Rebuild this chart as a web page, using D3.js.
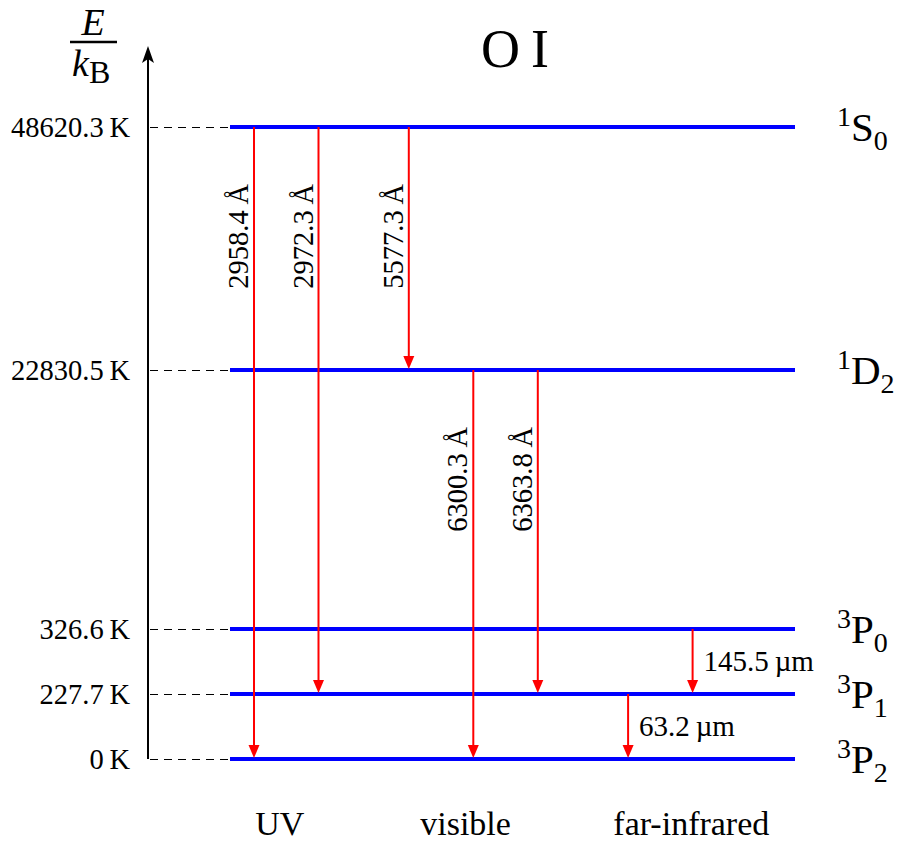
<!DOCTYPE html>
<html><head><meta charset="utf-8">
<script src="https://cdn.jsdelivr.net/npm/d3@7"></script>
<style>body{margin:0;background:#fff}svg{display:block}text{font-family:'Liberation Serif',serif;fill:#000}</style>
</head><body><svg id="c" width="900" height="843"></svg>
<script>
// ---- data ----
const levelIds   = ["3P2", "3P1", "3P0", "1D2", "1S0"];
const energiesK  = [0, 227.7, 326.6, 22830.5, 48620.3];
const tickLabels = ["0\u2009K", "227.7\u2009K", "326.6\u2009K", "22830.5\u2009K", "48620.3\u2009K"];
const termMult   = ["3", "3", "3", "1", "1"];
const termL      = ["P", "P", "P", "D", "S"];
const termJ      = ["2", "1", "0", "2", "0"];

const transFrom   = ["1S0", "1S0", "1S0", "1D2", "1D2", "3P1", "3P0"];
const transTo     = ["3P2", "3P1", "1D2", "3P2", "3P1", "3P2", "3P1"];
const transLabels = ["2958.4\u2009Å", "2972.3\u2009Å", "5577.3\u2009Å", "6300.3\u2009Å", "6363.8\u2009Å", "63.2\u2009µm", "145.5\u2009µm"];
const transCol    = [0, 1, 2.4, 3.4, 4.4, 5.8, 6.8];
const transVertical = [true, true, true, true, true, false, false];

const categories   = ["UV", "visible", "far-infrared"];
const categoryCol  = [0.4, 3.28, 6.78];

const title = "O\u2009I";

// ---- layout ----
const svg = d3.select("#c");
const x = d3.scaleLinear().domain([0, 1]).range([254, 318.5]);
const levelX0 = x.invert(230), levelX1 = x.invert(795);
// broken energy axis: piecewise linear
const y = d3.scaleLinear().domain(energiesK).range([759, 694, 629, 370, 127]);
const E = id => energiesK[levelIds.indexOf(id)];
const axisX = 148;
const serif = "'Liberation Serif', serif";

// axis arrow
svg.append("line").attr("x1", axisX).attr("x2", axisX).attr("y1", y(0)).attr("y2", 58)
  .attr("stroke", "#000").attr("stroke-width", 2);
svg.append("path").attr("d", `M${axisX},46 L${axisX+6},63 L${axisX},59 L${axisX-6},63 Z`).attr("fill", "#000");

// tick dashes and labels
const axis = d3.axisLeft(y).tickValues(energiesK).tickSize(0).tickFormat((d, i) => tickLabels[i]);
const gA = svg.append("g").attr("transform", `translate(${axisX},0)`).call(axis).attr("font-family", null).attr("font-size", null);
gA.select(".domain").remove();
gA.selectAll("text").attr("x", -18).attr("dy", "0.35em").style("font-family", serif).style("font-size", "28.5px").attr("fill", "#000");
gA.selectAll(".tick").append("line").attr("x1", 2).attr("x2", x(levelX0) - axisX)
  .attr("stroke", "#000").attr("stroke-width", 1).attr("stroke-dasharray", "8,6");

// level lines
svg.selectAll(".lvl").data(energiesK).enter().append("line")
  .attr("x1", x(levelX0)).attr("x2", x(levelX1)).attr("y1", d => y(d)).attr("y2", d => y(d))
  .attr("stroke", "#0000ff").attr("stroke-width", 4);

// term labels
energiesK.forEach((e, i) => {
  const t = svg.append("text").attr("x", 837).attr("y", y(e) + 14).style("font-family", serif).style("font-size", "41px");
  t.append("tspan").text(termMult[i]).style("font-size", "28px").attr("dy", -15);
  t.append("tspan").text(termL[i]).attr("dy", 15);
  t.append("tspan").text(termJ[i]).style("font-size", "28px").attr("dy", 9);
});

// transitions
transFrom.forEach((f, i) => {
  const cx = x(transCol[i]);
  const y0 = y(E(f)), y1 = y(E(transTo[i]));
  svg.append("line").attr("x1", cx).attr("x2", cx).attr("y1", y0).attr("y2", y1 - 10)
    .attr("stroke", "#ff0000").attr("stroke-width", 2);
  svg.append("path").attr("d", `M${cx},${y1 - 1} L${cx - 5.5},${y1 - 14} L${cx + 5.5},${y1 - 14} Z`).attr("fill", "#ff0000");
  if (transVertical[i]) {
    svg.append("text").attr("transform", `translate(${cx - 6},${y0 + 57}) rotate(-90)`)
      .attr("text-anchor", "end").style("font-family", serif).style("font-size", "28.5px").text(transLabels[i]);
  } else {
    svg.append("text").attr("x", cx + 11).attr("y", (y0 + y1) / 2 + 9)
      .style("font-family", serif).style("font-size", "29px").text(transLabels[i]);
  }
});

// categories
svg.selectAll(".cat").data(categories).enter().append("text")
  .attr("x", (d, i) => x(categoryCol[i])).attr("y", 835).attr("text-anchor", "middle")
  .style("font-family", serif).style("font-size", "34px").text(d => d);

// title
svg.append("text").attr("x", 515).attr("y", 67).attr("text-anchor", "middle").style("font-family", serif).style("font-size", "54px").text(title);

// E / kB
svg.append("text").attr("x", 93).attr("y", 34.5).attr("text-anchor", "middle").style("font-family", serif).style("font-size", "38px").style("font-style", "italic").text("E");
svg.append("line").attr("x1", 70).attr("x2", 117).attr("y1", 42).attr("y2", 42).attr("stroke", "#000").attr("stroke-width", 2.5);
const kb = svg.append("text").attr("x", 72).attr("y", 76).style("font-family", serif).style("font-size", "38px");
kb.append("tspan").text("k").style("font-style", "italic");
kb.append("tspan").text("B").style("font-size", "32px").attr("dy", 7);
</script></body></html>
